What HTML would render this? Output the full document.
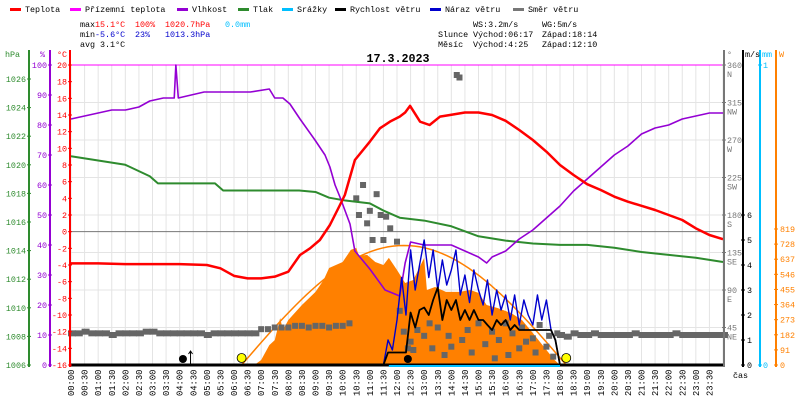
<!DOCTYPE html>
<html><head><meta charset="utf-8"><style>
body{margin:0;background:#fff}
svg{display:block;font-family:"Liberation Mono",monospace;font-size:8.4px}
</style></head><body>
<svg id="c" width="800" height="400" xmlns="http://www.w3.org/2000/svg"></svg>
<script>
const tempT=[0,1,2,3,4,5,5.5,6,6.5,7,7.5,8,8.43,8.8,9.16,9.53,9.9,10.08,10.45,11.0,11.37,11.74,12.1,12.3,12.48,12.85,13.2,13.58,13.95,14.5,15,15.5,16,16.5,17,17.5,18,18.5,19,19.5,20,20.5,21,21.5,22,22.5,23,23.5,24];
const tempV=[-3.8,-3.8,-3.9,-3.9,-3.9,-4.0,-4.4,-5.3,-5.6,-5.6,-5.4,-4.8,-2.8,-2.0,-1.0,0.8,3.2,4.4,8.6,10.8,12.4,13.2,13.8,14.3,15.1,13.2,12.8,13.8,14.0,14.3,14.3,14.0,13.3,12.2,11.0,9.6,8.0,6.8,5.7,5.0,4.2,3.6,3.1,2.6,2.0,1.4,0.4,-0.4,-0.9];
const humT=[0,0.5,1,1.5,2,2.5,2.9,3.4,3.8,3.86,3.95,4.9,6.6,7.3,7.5,7.8,8.06,8.43,8.98,9.35,9.53,9.72,9.9,10.27,10.45,11.0,11.56,12.1,12.3,12.5,13,13.5,14,14.5,15,15.3,15.5,16,16.5,17,17.5,18,18.5,19,19.5,20,20.5,21,21.5,22,22.5,23,23.5,24];
const humV=[82,83,84,85,85,86,88,89,89,100,89,91,91,92,89,89,87,82,75,70,66,60,56,47,38,32,25,23,34,41,40,40,40,38,36,34,36,38,42,45,49,53,58,62,66,70,73,77,79,80,82,83,84,84];
const presT=[0,1,2,2.9,3.2,5.3,5.6,8.4,9,9.5,10.1,11,11.5,12.1,13,14,15,16,17,18,19,20,21,22,23,24];
const presV=[1020.6,1020.3,1020.0,1019.2,1018.7,1018.7,1018.2,1018.2,1018.1,1017.7,1017.5,1017.3,1016.8,1016.3,1016.1,1015.7,1015.0,1014.7,1014.5,1014.4,1014.4,1014.2,1013.9,1013.7,1013.5,1013.2];
const solT=[6.75,7,7.3,7.5,7.7,7.8,8,8.5,9,9.3,9.5,10,10.3,10.5,10.6,10.9,11.2,11.5,11.7,12,12.3,12.6,13,13.1,13.4,13.8,14.3,14.7,15,15.3,15.7,16.2,16.6,17,17.5,17.8,18];
const solW=[0,30,120,150,283,210,271,361,440,512,584,620,693,705,657,663,620,602,645,572,494,512,645,452,470,440,440,452,434,361,343,313,271,193,90,30,0];
const clearSky=[720];
const sunTimes=[6.28,18.23];
const moonTimes=[4.12,12.4];
const windT=[11.5,11.67,11.83,12,12.17,12.33,12.5,12.67,12.83,13,13.17,13.33,13.5,13.67,13.83,14,14.17,14.33,14.5,14.67,14.83,15,15.17,15.33,15.5,15.67,15.83,16,16.17,16.33,16.5,16.67,16.83,17,17.17,17.33,17.5,17.67,17.83,18];
const windV=[0,0.5,0.5,0.5,0.5,0.5,2.1,1.5,2.2,2.3,2.0,2.6,3.1,1.8,2.6,2.2,2.6,1.8,2.2,1.8,2.2,1.8,1.8,1.6,1.4,1.8,1.6,1.8,1.4,1.6,1.4,1.4,1.4,1.4,1.4,1.4,1.4,1.4,1.0,0];
const gustV=[0,1.0,0.6,1.8,3.5,2.0,4.6,3.0,4.0,5.0,3.5,4.6,3.0,4.2,3.2,3.8,4.6,2.8,3.6,2.5,3.8,3.0,2.4,3.4,2.0,3.0,2.2,2.8,1.8,2.8,1.6,2.6,2.0,1.6,2.8,1.8,2.6,1.4,1.0,0];
const dirT=[0,0.25,0.5,0.75,1,1.25,1.5,1.75,2,2.25,2.5,2.75,3,3.25,3.5,3.75,4,4.25,4.5,4.75,5,5.25,5.5,5.75,6,6.25,6.5,6.75,
7,7.25,7.5,7.75,8,8.25,8.5,8.75,9,9.25,9.5,9.75,10,10.25,
10.5,10.6,10.75,10.9,11,11.1,11.25,11.4,11.5,11.6,11.75,12,12.1,12.25,12.4,12.5,12.6,12.75,13,13.2,13.3,13.5,13.75,13.9,14,14.2,14.3,14.4,14.6,14.75,15,15.25,15.5,15.6,15.75,16,16.1,16.25,16.5,16.6,16.75,17,17.1,17.25,17.5,17.6,17.75,17.9,
18,18.25,18.5,18.75,19,19.25,19.5,19.75,20,20.25,20.5,20.75,21,21.25,21.5,21.75,22,22.25,22.5,22.75,23,23.25,23.5,23.75,24];
const dirV=[38,38,40,38,38,38,36,38,38,38,38,40,40,38,38,38,38,38,38,38,36,38,38,38,38,38,38,38,
43,43,45,45,45,47,47,45,47,47,45,47,47,50,
200,180,216,170,185,150,205,180,150,178,164,148,65,40,20,28,18,42,35,50,20,45,12,35,22,348,345,30,42,15,50,25,40,8,30,50,12,38,20,45,28,32,15,48,22,35,10,38,
36,34,38,36,36,38,36,36,36,36,36,38,36,36,36,36,36,38,36,36,36,36,36,36,36];
const hourLabels=["00:00","00:30","01:00","01:30","02:00","02:30","03:00","03:30","04:00","04:30","05:00","05:30","06:00","06:30","07:00","07:30","08:00","08:30","09:00","09:30","10:00","10:30","11:00","11:30","12:00","12:30","13:00","13:30","14:00","14:30","15:00","15:30","16:00","16:30","17:00","17:30","18:00","18:30","19:00","19:30","20:00","20:30","21:00","21:30","22:00","22:30","23:00","23:30"];
const tempTicks=[20,18,16,14,12,10,8,6,4,2,0,-2,-4,-6,-8,-10,-12,-14,-16];
const humTicks=[100,90,80,70,60,50,40,30,20,10,0];
const presTicks=[1026,1024,1022,1020,1018,1016,1014,1012,1010,1008,1006];
const dirTicks=[[360,"N"],[315,"NW"],[270,"W"],[225,"SW"],[180,"S"],[135,"SE"],[90,"E"],[45,"NE"]];
const windTicks=[6,5,4,3,2,1,0];
const solTicks=[819,728,637,546,455,364,273,182,91,0];

const X0=71,X1=723,TOP=65,BOT=365;
const xH=h=>X0+(X1-X0)*h/24;
const yT=t=>BOT-(t+16)*(BOT-TOP)/36;
const yH=p=>BOT-p*3;
const yP=p=>BOT-(p-1006)*14.3;
const yW=w=>BOT-w*136/819;
const yS=s=>BOT-s*25;
const yD=d=>BOT-d*(BOT-TOP)/360;
const svg=document.getElementById('c');
const NS="http://www.w3.org/2000/svg";
function mk(tag,at,txt){const e=document.createElementNS(NS,tag);for(const k in at)e.setAttribute(k,at[k]);if(txt!==undefined)e.textContent=txt;svg.appendChild(e);return e;}

for(let i=0;i<=48;i++){const g=mk('line',{x1:xH(i/2),x2:xH(i/2),y1:TOP,y2:BOT,stroke:'#e4e4e4'});

}
for(let k=0;k<8;k++){const g=mk('line',{x1:X0,x2:X1,y1:TOP+37.5*k,y2:TOP+37.5*k,stroke:'#e4e4e4'});

}
let zl=mk('line',{x1:X0,x2:X1,y1:yT(0),y2:yT(0),stroke:'#777'});


let tl=mk('line',{x1:X0,x2:X1,y1:TOP,y2:TOP,stroke:'#f0f'});



let sp=`M${xH(solT[0])},${BOT}`;solT.forEach((t,i)=>sp+=`L${xH(t)},${yW(solW[i])}`);sp+=`L${xH(solT[solT.length-1])},${BOT}Z`;
let sa=mk('path',{d:sp,fill:'#ff8000'});


let cp='';for(let i=0;i<=60;i++){const t=sunTimes[0]+(sunTimes[1]-sunTimes[0])*i/60;const v=clearSky[0]*Math.sin(Math.PI*i/60);cp+=(i?'L':'M')+xH(t)+','+yW(v);}
let cs=mk('path',{d:cp,fill:'none',stroke:'#ff8000','stroke-width':1.5});



function line(T,V,fy,col,w,name){let p='';T.forEach((t,i)=>p+=(i?'L':'M')+xH(t)+','+fy(V[i]));const e=mk('path',{d:p,fill:'none',stroke:col,'stroke-width':w,'stroke-linejoin':'round'});

}
dirT.forEach((t,i)=>{const r=mk('rect',{x:xH(t)-3,y:yD(dirV[i])-3,width:t<7||t>=18?8:6,height:6,fill:'#666'});

});
line(presT,presV,yP,'#2e8b2e',2,'pressure-line');
line(humT,humV,yH,'#9400d3',1.6,'humidity-line');
line(tempT,tempV,yT,'#f00',2.5,'temperature-line');
line(windT,gustV,yS,'#0000cd',1.4,'wind-gust-line');
line(windT,windV,yS,'#000',1.8,'wind-speed-line');
let bl=mk('line',{x1:X0,x2:X1,y1:BOT,y2:BOT,stroke:'#000','stroke-width':3});


let rl=mk('line',{x1:xH(11.7),x2:xH(18),y1:BOT+1,y2:BOT+1,stroke:'#00bfff','stroke-width':2});


sunTimes.forEach(t=>{const c=mk('circle',{cx:xH(t),cy:358,r:4.5,fill:'#ff0',stroke:'#000','stroke-width':0.8});

});
moonTimes.forEach(t=>{const c=mk('circle',{cx:xH(t),cy:359,r:4,fill:'#000'});

});
let ar=mk('path',{d:`M${xH(4.4)},364V351M${xH(4.4)-2},354L${xH(4.4)},351L${xH(4.4)+2},354`,stroke:'#000',fill:'none'});



function axis(x,col,name){const e=mk('line',{x1:x,x2:x,y1:50,y2:BOT+2,stroke:col,'stroke-width':2});

}
axis(29,'#2e8b2e','pressure-axis');axis(50,'#9400d3','humidity-axis');axis(70,'#f00','temperature-axis');
axis(724,'#777','direction-axis');axis(743,'#000','wind-axis');axis(760,'#00bfff','rain-axis');axis(776,'#ff8000','solar-axis');
function tick(x,y,txt,col,anchor,tx,name){mk('line',{x1:x-2,x2:x+2,y1:y,y2:y,stroke:col});const t=mk('text',{x:tx,y:y+3,fill:col,'text-anchor':anchor},txt);

}
tempTicks.forEach(v=>tick(70,yT(v),v,'#f00','end',67,'temperature-tick'));
humTicks.forEach(v=>tick(50,yH(v),v,'#9400d3','end',47,'humidity-tick'));
presTicks.forEach(v=>tick(29,yP(v),v,'#2e8b2e','end',26,'pressure-tick'));
dirTicks.forEach(d=>{tick(724,yD(d[0]),d[0],'#777','start',727,'direction-tick');const t=mk('text',{x:727,y:yD(d[0])+12,fill:'#777'},d[1]);

});
windTicks.forEach(v=>tick(743,yS(v),v,'#000','start',747,'wind-tick'));
solTicks.forEach(v=>tick(776,yW(v),v,'#ff8000','start',780,'solar-tick'));
tick(760,yS(0),0,'#00bfff','start',763,'rain-tick');tick(760,TOP,1,'#00bfff','start',763,'rain-tick');
[['hPa',5,'#2e8b2e'],['%',40,'#9400d3'],['°C',57,'#f00'],['°',727,'#777'],['m/s',745,'#000'],['mm',762,'#00bfff'],['W',779,'#ff8000']].forEach(u=>{const t=mk('text',{x:u[1],y:57,fill:u[2]},u[0]);

});
hourLabels.forEach((l,i)=>{const x=xH(i/2)+3;const t=mk('text',{x:x,y:396,transform:`rotate(-90 ${x} 396)`,'font-size':'8.8'},l);

});
let ca=mk('text',{x:733,y:378},'čas');


let ti=mk('text',{x:398,y:62,'text-anchor':'middle','font-weight':'bold','font-size':'11.7'},'17.3.2023');



[['Teplota',10,'#f00'],['Přízemní teplota',70,'#f0f'],['Vlhkost',177,'#9400d3'],['Tlak',238,'#2e8b2e'],['Srážky',282,'#00bfff'],['Rychlost větru',335,'#000'],['Náraz větru',430,'#0000cd'],['Směr větru',513,'#777']].forEach(l=>{
const r=mk('rect',{x:l[1],y:8,width:11,height:3,fill:l[2]});


const t=mk('text',{x:l[1]+15,y:12},l[0]);

});
[['max',80,27,'#000'],['15.1°C',95,27,'#f00'],['100%',135,27,'#f00'],['1020.7hPa',165,27,'#f00'],['0.0mm',225,27,'#00bfff'],
['min',80,37,'#000'],['-5.6°C',95,37,'#00c'],['23%',135,37,'#00c'],['1013.3hPa',165,37,'#00c'],['avg',80,47,'#000'],['3.1°C',100,47,'#000'],
['WS:3.2m/s',473,27,'#000'],['WG:5m/s',542,27,'#000'],['Slunce',438,37,'#000'],['Východ:06:17',473,37,'#000'],['Západ:18:14',542,37,'#000'],
['Měsíc',438,47,'#000'],['Východ:4:25',473,47,'#000'],['Západ:12:10',542,47,'#000']].forEach(s=>{const t=mk('text',{x:s[1],y:s[2],fill:s[3]},s[0]);

});
</script>
</body></html>
